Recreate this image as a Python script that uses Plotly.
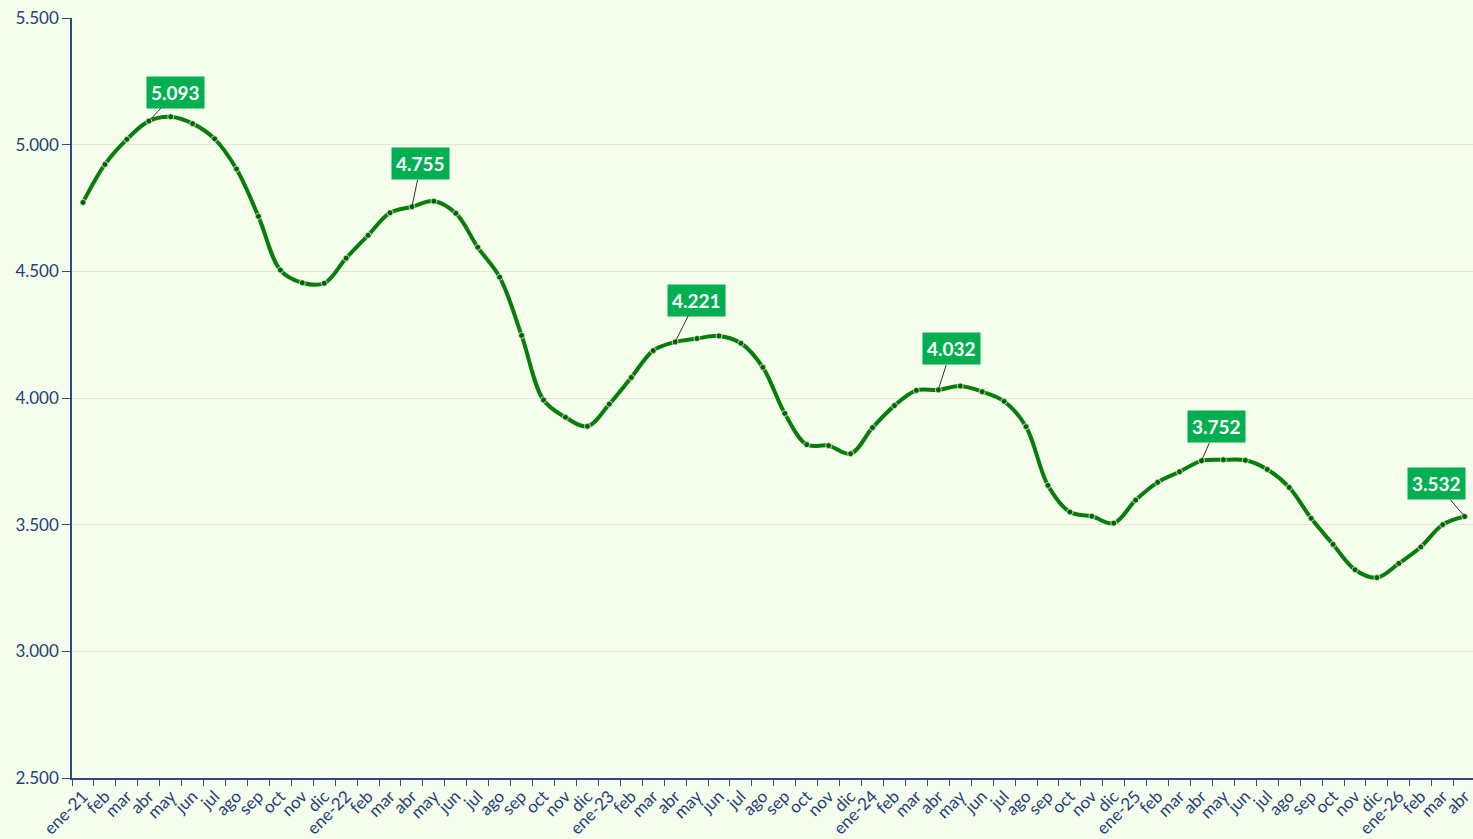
import plotly.graph_objects as go

# ---- data ----
months = ["ene", "feb", "mar", "abr", "may", "jun", "jul", "ago", "sep", "oct", "nov", "dic"]
years = ["21", "22", "23", "24", "25", "26"]

values_2021 = [4772, 4922, 5021, 5093, 5110, 5083, 5023, 4904, 4717, 4505, 4455, 4453]
values_2022 = [4552, 4642, 4731, 4755, 4777, 4729, 4595, 4477, 4247, 3992, 3924, 3888]
values_2023 = [3976, 4081, 4187, 4221, 4235, 4245, 4216, 4121, 3939, 3816, 3812, 3780]
values_2024 = [3883, 3970, 4030, 4032, 4047, 4025, 3987, 3887, 3655, 3550, 3533, 3506]
values_2025 = [3597, 3667, 3709, 3752, 3756, 3754, 3718, 3647, 3525, 3422, 3322, 3291]
values_2026 = [3347, 3412, 3500, 3532]

labelled_month = "abr"
# pixel offsets of each label box from its point (styling)
label_offsets = [(27, -29), (9, -43), (21, -42), (13, -41), (15, -34), (-28, -33)]

values = values_2021 + values_2022 + values_2023 + values_2024 + values_2025 + values_2026
tick_labels = []
for y in years:
    for m in months:
        tick_labels.append(f"{m}-{y}" if m == "ene" else m)
tick_labels = tick_labels[:len(values)]
x = list(range(len(values)))

def fmt(v):
    return f"{v:,}".replace(",", ".")

FONT = "Lato, 'Open Sans', sans-serif"
AXIS_COLOR = "#2F4B7C"
TEXT_COLOR = "#23407A"

fig = go.Figure()
fig.add_trace(go.Scatter(
    x=x, y=values, mode="lines+markers",
    line=dict(color="#077D0A", width=4, shape="spline", smoothing=1.0),
    marker=dict(size=6, color="#066006", line=dict(color="#E4F4DC", width=0.8)),
    hoverinfo="skip", showlegend=False,
))

annotations = []
k = 0
for i, lab in enumerate(tick_labels):
    if lab.startswith(labelled_month):
        ax, ay = label_offsets[k]
        k += 1
        annotations.append(dict(
            x=i, y=values[i], xref="x", yref="y", text=f"<b>{fmt(values[i])}</b>",
            showarrow=True, arrowhead=0, arrowwidth=1, arrowcolor="#333333",
            ax=ax, ay=ay, bgcolor="#00B050", borderpad=4,
            font=dict(family=FONT, size=19, color="white"),
        ))

n = len(values)
fig.update_layout(
    width=1473, height=839,
    margin=dict(l=72, r=0, t=18, b=61),
    paper_bgcolor="#F5FDEC", plot_bgcolor="#F5FDEC",
    separators=",.",
    font=dict(family=FONT, color=TEXT_COLOR),
    annotations=annotations,
    xaxis=dict(
        range=[-0.5, n - 0.62], tickmode="array", tickvals=x, ticktext=tick_labels,
        tickangle=-45, tickfont=dict(size=17, color=TEXT_COLOR, family=FONT),
        ticklabeloverflow="allow",
        ticks="", showgrid=False, zeroline=False, automargin=False,
        showline=True, linecolor=AXIS_COLOR, linewidth=1.5,
        minor=dict(tickmode="array", tickvals=[i - 0.5 for i in range(n + 1)],
                   ticks="outside", ticklen=6, tickcolor=AXIS_COLOR, tickwidth=1, showgrid=False),
    ),
    yaxis=dict(
        range=[2500, 5500], tickmode="linear", tick0=2500, dtick=500, tickformat=",d",
        tickfont=dict(size=17, color=TEXT_COLOR, family=FONT),
        ticks="outside", ticklen=8, tickcolor=AXIS_COLOR, tickwidth=1,
        showgrid=True, gridcolor="#E1E8D6", gridwidth=1, zeroline=False,
        showline=True, linecolor=AXIS_COLOR, linewidth=1.5, automargin=False,
    ),
)

fig.write_html("out.html", config={"displayModeBar": False},
               post_script="document.body.style.margin='0';document.body.style.overflow='hidden';")
